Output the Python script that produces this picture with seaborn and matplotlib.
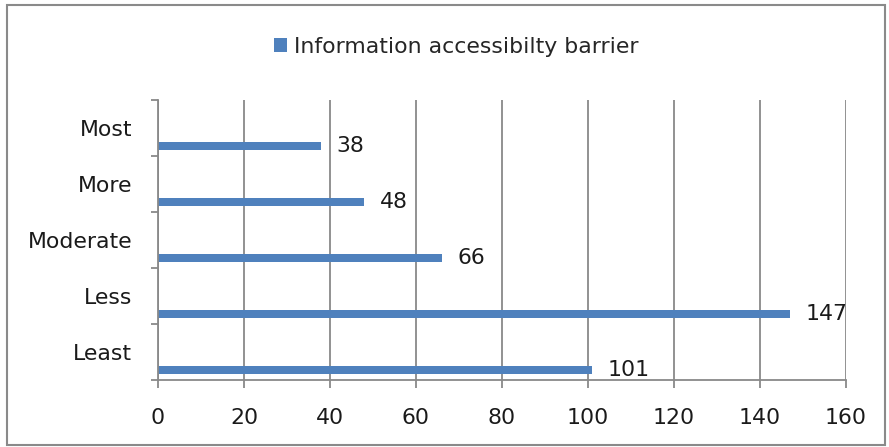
import matplotlib
matplotlib.use("Agg")
import matplotlib.pyplot as plt
import pandas as pd
import seaborn as sns
from matplotlib.patches import Rectangle

# data (top to bottom)
categories = ["Most", "More", "Moderate", "Less", "Least"]
values = [38, 48, 66, 147, 101]
series_name = "Information accessibilty barrier"
x_ticks = [0, 20, 40, 60, 80, 100, 120, 140, 160]

BAR_COLOR = "#4F81BD"
GRID_COLOR = "#898989"
TEXT_COLOR = "#1a1a1a"
FS = 15.8

sns.set_theme(style="white")
plt.rcParams["font.family"] = ["DejaVu Sans"]
plt.rcParams["font.size"] = FS

df = pd.DataFrame({"level": categories, "count": values, "series": series_name})

fig = plt.figure(figsize=(8.89, 4.47), dpi=100)
ax = fig.add_axes([0.1777, 0.1499, 0.9516 - 0.1777, 0.7763 - 0.1499])

sns.barplot(
    data=df, x="count", y="level", hue="series", order=categories,
    orient="h", width=0.15, palette=[BAR_COLOR], saturation=1, linewidth=0,
    ax=ax, legend=True,
)

# Excel draws the single series in the lower part of each category band
for patch in ax.patches:
    patch.set_y(patch.get_y() + 0.32)

ax.bar_label(ax.containers[0], padding=11, fontsize=FS, color=TEXT_COLOR)

ax.set_xlim(0, 160)
ax.set_ylim(4.5, -0.5)
ax.set_xticks(x_ticks)
ax.set_yticks([i - 0.5 for i in range(len(categories) + 1)])
ax.set_yticklabels([])
ax.set_yticks(range(len(categories)), labels=categories, minor=True)
ax.set_xlabel("")
ax.set_ylabel("")

ax.grid(axis="x", color=GRID_COLOR, linewidth=1.3)
ax.grid(axis="y", visible=False)
ax.set_axisbelow(True)
for side in ["top", "right"]:
    ax.spines[side].set_visible(False)
for side in ["left", "bottom"]:
    ax.spines[side].set_color(GRID_COLOR)
    ax.spines[side].set_linewidth(1.3)

ax.tick_params(axis="y", which="major", direction="out", length=5, width=1.3,
               color=GRID_COLOR, left=True)
ax.tick_params(axis="y", which="minor", length=0, pad=18.5, labelsize=FS,
               labelcolor=TEXT_COLOR, left=True)
ax.tick_params(axis="x", direction="out", length=6, width=1.3, color=GRID_COLOR,
               pad=14, labelsize=FS, labelcolor=TEXT_COLOR, bottom=True)

sns.move_legend(
    ax, "center", bbox_to_anchor=(0.513, 0.895), bbox_transform=fig.transFigure,
    title=None, frameon=False, handlelength=0.6, handleheight=0.6,
    handletextpad=0.3, fontsize=FS,
)

fig.patches.append(Rectangle((0.008, 0.004), 0.9875, 0.985, transform=fig.transFigure,
                             fill=False, edgecolor="#8a8a8a", linewidth=1.5))

fig.savefig("out.png", dpi=100)
